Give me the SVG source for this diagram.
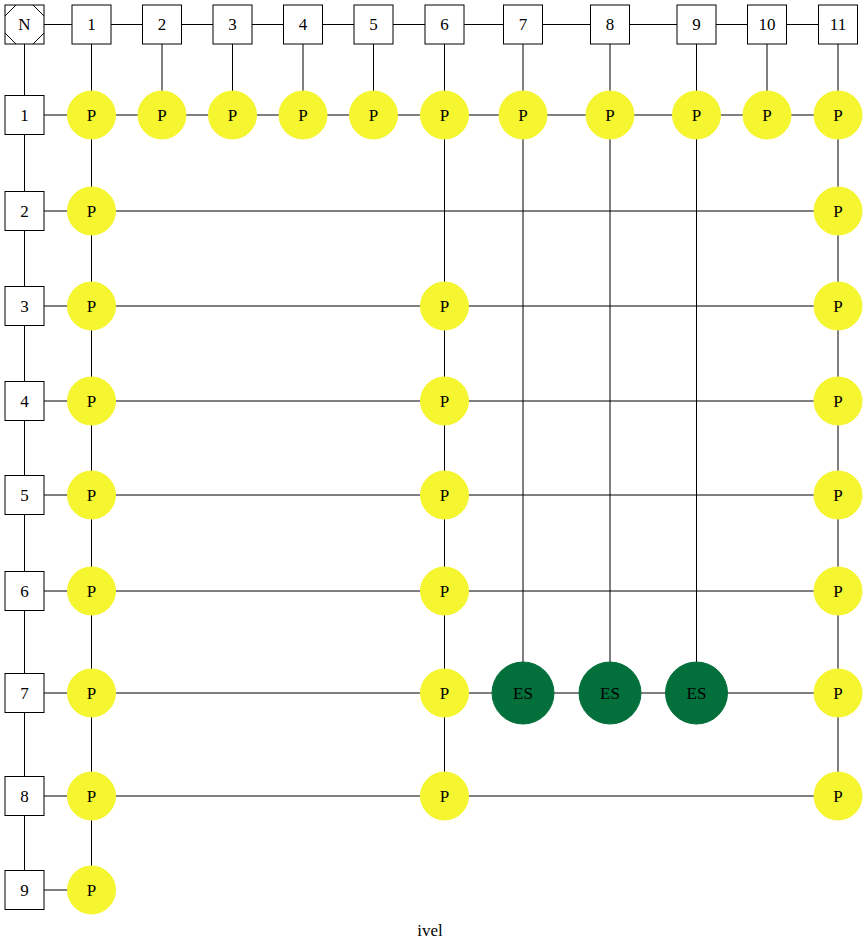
<svg xmlns="http://www.w3.org/2000/svg" width="867" height="951" viewBox="0 0 867 951">
<style>
.b{fill:#fff;stroke:#000;stroke-width:1}
.p{fill:#f5f530;stroke:#f5f530}
.e{fill:#03703c;stroke:#03703c}
.c line{stroke:#000;stroke-width:1}
text{font-family:"Liberation Serif","Times New Roman",serif;font-size:17px;text-anchor:middle;dominant-baseline:central;fill:#000}
</style>
<rect width="867" height="951" fill="#fff"/>
<g class="c" id="connectors">
<line x1="24.5" y1="24.5" x2="838" y2="24.5"/>
<line x1="24.5" y1="24.5" x2="24.5" y2="890"/>
<line x1="91.5" y1="24.5" x2="91.5" y2="890"/>
<line x1="162" y1="24.5" x2="162" y2="115"/>
<line x1="232.5" y1="24.5" x2="232.5" y2="115"/>
<line x1="303" y1="24.5" x2="303" y2="115"/>
<line x1="373.5" y1="24.5" x2="373.5" y2="115"/>
<line x1="444.5" y1="24.5" x2="444.5" y2="796"/>
<line x1="523" y1="24.5" x2="523" y2="693"/>
<line x1="610" y1="24.5" x2="610" y2="693"/>
<line x1="696.5" y1="24.5" x2="696.5" y2="693"/>
<line x1="767" y1="24.5" x2="767" y2="115"/>
<line x1="838" y1="24.5" x2="838" y2="796"/>
<line x1="24.5" y1="115" x2="838" y2="115"/>
<line x1="24.5" y1="211" x2="838" y2="211"/>
<line x1="24.5" y1="306" x2="838" y2="306"/>
<line x1="24.5" y1="401" x2="838" y2="401"/>
<line x1="24.5" y1="495" x2="838" y2="495"/>
<line x1="24.5" y1="591" x2="838" y2="591"/>
<line x1="24.5" y1="693" x2="838" y2="693"/>
<line x1="24.5" y1="796" x2="838" y2="796"/>
<line x1="24.5" y1="890" x2="91.5" y2="890"/>
</g>
<g id="N">
<rect class="b" x="5" y="5" width="39" height="39"/>
<path d="M5,16 L16,5 M33,5 L44,16 M44,33 L33,44 M16,44 L5,33" stroke="#000" fill="none"/>
<text x="24.5" y="24.5">N</text>
</g>
<g id="col1"><rect class="b" x="72" y="5" width="39" height="39"/><text x="91.5" y="24.5">1</text></g>
<g id="col2"><rect class="b" x="142.5" y="5" width="39" height="39"/><text x="162" y="24.5">2</text></g>
<g id="col3"><rect class="b" x="213" y="5" width="39" height="39"/><text x="232.5" y="24.5">3</text></g>
<g id="col4"><rect class="b" x="283.5" y="5" width="39" height="39"/><text x="303" y="24.5">4</text></g>
<g id="col5"><rect class="b" x="354" y="5" width="39" height="39"/><text x="373.5" y="24.5">5</text></g>
<g id="col6"><rect class="b" x="425" y="5" width="39" height="39"/><text x="444.5" y="24.5">6</text></g>
<g id="col7"><rect class="b" x="503.5" y="5" width="39" height="39"/><text x="523" y="24.5">7</text></g>
<g id="col8"><rect class="b" x="590.5" y="5" width="39" height="39"/><text x="610" y="24.5">8</text></g>
<g id="col9"><rect class="b" x="677" y="5" width="39" height="39"/><text x="696.5" y="24.5">9</text></g>
<g id="col10"><rect class="b" x="747.5" y="5" width="39" height="39"/><text x="767" y="24.5">10</text></g>
<g id="col11"><rect class="b" x="818.5" y="5" width="39" height="39"/><text x="838" y="24.5">11</text></g>
<g id="row1"><rect class="b" x="5" y="95.5" width="39" height="39"/><text x="24.5" y="115">1</text></g>
<g id="row2"><rect class="b" x="5" y="191.5" width="39" height="39"/><text x="24.5" y="211">2</text></g>
<g id="row3"><rect class="b" x="5" y="286.5" width="39" height="39"/><text x="24.5" y="306">3</text></g>
<g id="row4"><rect class="b" x="5" y="381.5" width="39" height="39"/><text x="24.5" y="401">4</text></g>
<g id="row5"><rect class="b" x="5" y="475.5" width="39" height="39"/><text x="24.5" y="495">5</text></g>
<g id="row6"><rect class="b" x="5" y="571.5" width="39" height="39"/><text x="24.5" y="591">6</text></g>
<g id="row7"><rect class="b" x="5" y="673.5" width="39" height="39"/><text x="24.5" y="693">7</text></g>
<g id="row8"><rect class="b" x="5" y="776.5" width="39" height="39"/><text x="24.5" y="796">8</text></g>
<g id="row9"><rect class="b" x="5" y="870.5" width="39" height="39"/><text x="24.5" y="890">9</text></g>
<g id="p1_1"><circle class="p" cx="91.5" cy="115" r="24"/><text x="91.5" y="115">P</text></g>
<g id="p1_2"><circle class="p" cx="162" cy="115" r="24"/><text x="162" y="115">P</text></g>
<g id="p1_3"><circle class="p" cx="232.5" cy="115" r="24"/><text x="232.5" y="115">P</text></g>
<g id="p1_4"><circle class="p" cx="303" cy="115" r="24"/><text x="303" y="115">P</text></g>
<g id="p1_5"><circle class="p" cx="373.5" cy="115" r="24"/><text x="373.5" y="115">P</text></g>
<g id="p1_6"><circle class="p" cx="444.5" cy="115" r="24"/><text x="444.5" y="115">P</text></g>
<g id="p1_7"><circle class="p" cx="523" cy="115" r="24"/><text x="523" y="115">P</text></g>
<g id="p1_8"><circle class="p" cx="610" cy="115" r="24"/><text x="610" y="115">P</text></g>
<g id="p1_9"><circle class="p" cx="696.5" cy="115" r="24"/><text x="696.5" y="115">P</text></g>
<g id="p1_10"><circle class="p" cx="767" cy="115" r="24"/><text x="767" y="115">P</text></g>
<g id="p1_11"><circle class="p" cx="838" cy="115" r="24"/><text x="838" y="115">P</text></g>
<g id="p2_1"><circle class="p" cx="91.5" cy="211" r="24"/><text x="91.5" y="211">P</text></g>
<g id="p2_11"><circle class="p" cx="838" cy="211" r="24"/><text x="838" y="211">P</text></g>
<g id="p3_1"><circle class="p" cx="91.5" cy="306" r="24"/><text x="91.5" y="306">P</text></g>
<g id="p3_6"><circle class="p" cx="444.5" cy="306" r="24"/><text x="444.5" y="306">P</text></g>
<g id="p3_11"><circle class="p" cx="838" cy="306" r="24"/><text x="838" y="306">P</text></g>
<g id="p4_1"><circle class="p" cx="91.5" cy="401" r="24"/><text x="91.5" y="401">P</text></g>
<g id="p4_6"><circle class="p" cx="444.5" cy="401" r="24"/><text x="444.5" y="401">P</text></g>
<g id="p4_11"><circle class="p" cx="838" cy="401" r="24"/><text x="838" y="401">P</text></g>
<g id="p5_1"><circle class="p" cx="91.5" cy="495" r="24"/><text x="91.5" y="495">P</text></g>
<g id="p5_6"><circle class="p" cx="444.5" cy="495" r="24"/><text x="444.5" y="495">P</text></g>
<g id="p5_11"><circle class="p" cx="838" cy="495" r="24"/><text x="838" y="495">P</text></g>
<g id="p6_1"><circle class="p" cx="91.5" cy="591" r="24"/><text x="91.5" y="591">P</text></g>
<g id="p6_6"><circle class="p" cx="444.5" cy="591" r="24"/><text x="444.5" y="591">P</text></g>
<g id="p6_11"><circle class="p" cx="838" cy="591" r="24"/><text x="838" y="591">P</text></g>
<g id="p7_1"><circle class="p" cx="91.5" cy="693" r="24"/><text x="91.5" y="693">P</text></g>
<g id="p7_6"><circle class="p" cx="444.5" cy="693" r="24"/><text x="444.5" y="693">P</text></g>
<g id="es7_7"><circle class="e" cx="523" cy="693" r="31"/><text x="523" y="693">ES</text></g>
<g id="es7_8"><circle class="e" cx="610" cy="693" r="31"/><text x="610" y="693">ES</text></g>
<g id="es7_9"><circle class="e" cx="696.5" cy="693" r="31"/><text x="696.5" y="693">ES</text></g>
<g id="p7_11"><circle class="p" cx="838" cy="693" r="24"/><text x="838" y="693">P</text></g>
<g id="p8_1"><circle class="p" cx="91.5" cy="796" r="24"/><text x="91.5" y="796">P</text></g>
<g id="p8_6"><circle class="p" cx="444.5" cy="796" r="24"/><text x="444.5" y="796">P</text></g>
<g id="p8_11"><circle class="p" cx="838" cy="796" r="24"/><text x="838" y="796">P</text></g>
<g id="p9_1"><circle class="p" cx="91.5" cy="890" r="24"/><text x="91.5" y="890">P</text></g>
<text x="430" y="930">ivel</text>
</svg>
